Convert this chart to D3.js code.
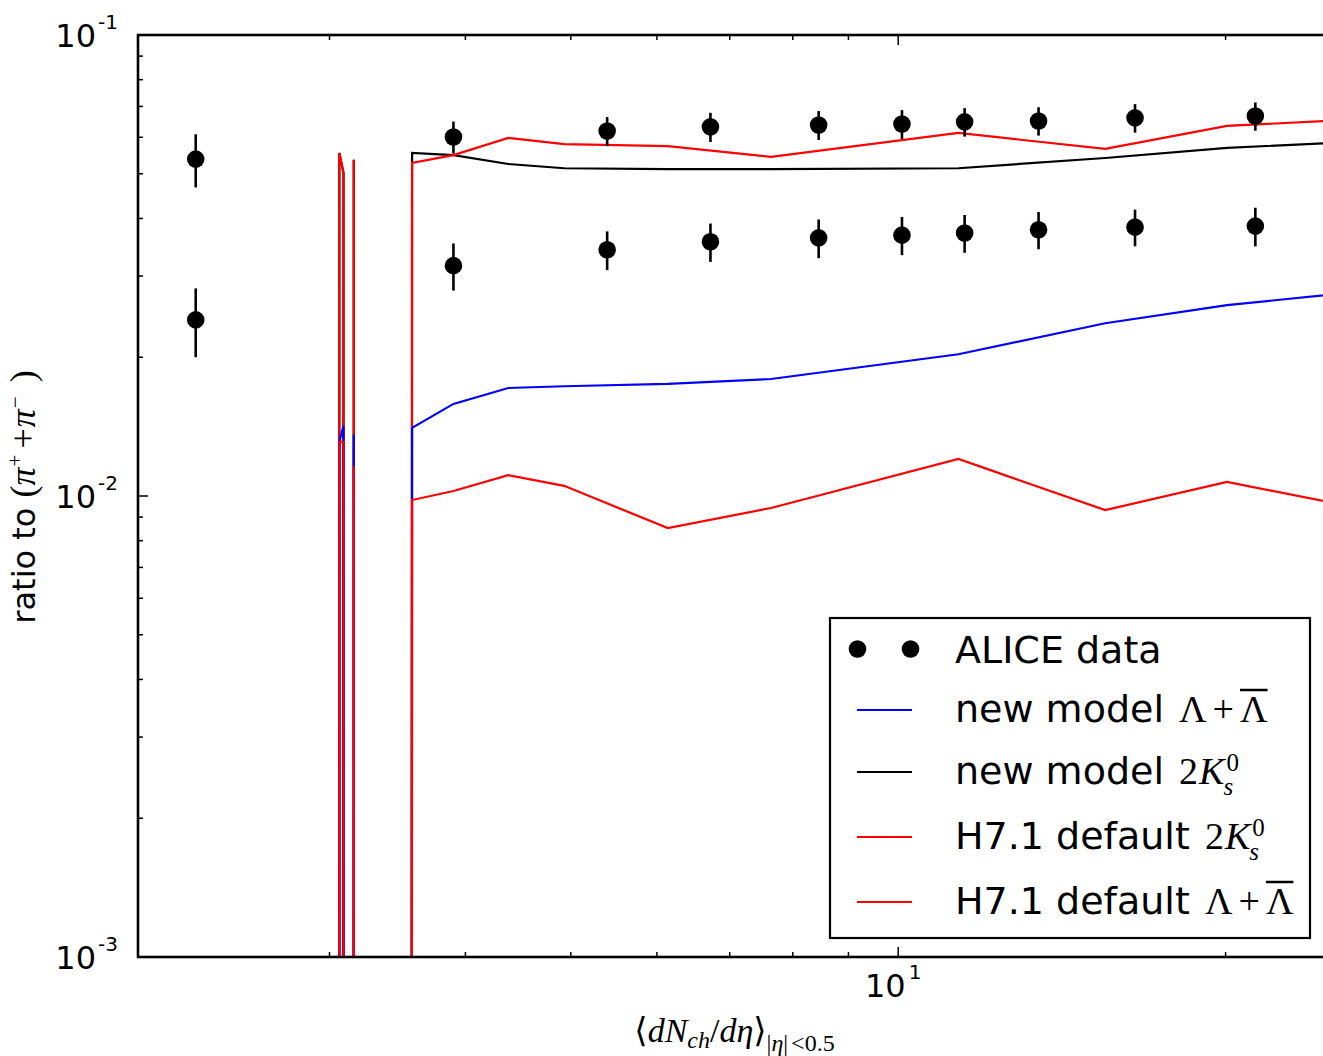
<!DOCTYPE html>
<html>
<head>
<meta charset="utf-8">
<script src="https://cdn.jsdelivr.net/npm/d3@7"></script>
<style>
  body { margin: 0; background: #fff; }
  svg { display: block; }
  svg text { white-space: pre; }
</style>
</head>
<body>
<script>
// ALICE pp multiplicity classes: <dNch/deta> and ratios to (pi+ + pi-)
const dataX   = [2.26, 3.90, 5.40, 6.72, 8.45, 10.08, 11.51, 13.46, 16.51, 21.3];
const dataK0  = [0.0538, 0.0601, 0.0619, 0.0632, 0.0638, 0.0641, 0.0648, 0.0651, 0.0661, 0.0667];
const errK0   = [0.0071, 0.0048, 0.0045, 0.0046, 0.0046, 0.0046, 0.0046, 0.0046, 0.0047, 0.0047];
const dataLam = [0.0241, 0.0316, 0.0342, 0.0356, 0.0363, 0.0368, 0.0372, 0.0378, 0.0383, 0.0385];
const errLam  = [0.0041, 0.0037, 0.0033, 0.0034, 0.0035, 0.0035, 0.0035, 0.0035, 0.0035, 0.0037];

// Generator predictions per multiplicity bin (0 = empty bin)
const modelX = [3.00, 3.063, 3.09, 3.12, 3.158, 3.20, 3.573, 3.90, 4.38, 4.93, 6.14, 7.64, 11.36, 15.5, 20.06, 26.0];
const newLam = [0, 0.0131, 0.0142, 0, 0.0136, 0, 0.01405, 0.01584, 0.01715, 0.0173, 0.0175, 0.01794, 0.0203, 0.0237, 0.02595, 0.0276];
const newK0  = [0, 0.0555, 0.0502, 0, 0.0536, 0, 0.0555, 0.0549, 0.0525, 0.0514, 0.0512, 0.0512, 0.0514, 0.0541, 0.0569, 0.0586];
const defK0  = [0, 0.0555, 0.0502, 0, 0.0536, 0, 0.0528, 0.0549, 0.0598, 0.0580, 0.0574, 0.0544, 0.0613, 0.0566, 0.0635, 0.0655];
const defLam = [0, 0.0131, 0.0131, 0, 0.0116, 0, 0.0098, 0.01025, 0.0111, 0.01052, 0.00852, 0.00942, 0.01203, 0.00932, 0.01073, 0.0095];

const xTickMajor = [10];
const xTickMinor = [2, 3, 4, 5, 6, 7, 8, 9, 20];
const yTickMajor = [1e-3, 1e-2, 1e-1];
const yTickLabels = ["-3", "-2", "-1"];

const W = 1323, H = 1056;
const L = 138, T = 35, R = 1331, B = 957;

const svg = d3.select("body").append("svg").attr("width", W).attr("height", H);

const x = d3.scaleLog().domain([2, 25]).range([L, R]);
const y = d3.scaleLog().domain([1e-3, 1e-1]).range([B, T]);

const SANS = "DejaVu Sans, sans-serif";
const SERIF = "Liberation Serif, DejaVu Serif, serif";

svg.append("defs").append("clipPath").attr("id", "plot")
  .append("rect").attr("x", L).attr("y", T).attr("width", R - L).attr("height", B - T);

const plot = svg.append("g").attr("clip-path", "url(#plot)");

// zero-valued bins are pushed far below the axis, as a clipped log plot does
const floorV = 1e-300;
const line = d3.line()
  .x(d => x(d[0]))
  .y(d => y(Math.max(d[1], floorV)));

const series = [
  { v: newK0,  c: "#000000" },
  { v: defK0,  c: "#ff0000" },
  { v: newLam, c: "#0000ff" },
  { v: defLam, c: "#ff0000" }
];
series.forEach(s => {
  plot.append("path")
    .attr("d", line(modelX.map((xx, i) => [xx, s.v[i]])))
    .attr("fill", "none").attr("stroke", s.c).attr("stroke-width", 2.2)
    .attr("stroke-linejoin", "miter");
});

// data points with error bars
[[dataK0, errK0], [dataLam, errLam]].forEach(([vals, errs]) => {
  const g = plot.append("g");
  g.selectAll("line").data(vals).join("line")
    .attr("x1", (d, i) => x(dataX[i])).attr("x2", (d, i) => x(dataX[i]))
    .attr("y1", (d, i) => y(d + errs[i])).attr("y2", (d, i) => y(d - errs[i]))
    .attr("stroke", "#000").attr("stroke-width", 2.6);
  g.selectAll("circle").data(vals).join("circle")
    .attr("cx", (d, i) => x(dataX[i])).attr("cy", d => y(d))
    .attr("r", 8.8).attr("fill", "#000");
});

// ticks (inward, on all four sides)
const axes = svg.append("g").attr("stroke", "#000");
function minorY() {
  const out = [];
  [1e-3, 1e-2].forEach(dec => { for (let k = 2; k <= 9; k++) out.push(dec * k); });
  return out;
}
xTickMajor.forEach(v => {
  axes.append("line").attr("x1", x(v)).attr("x2", x(v)).attr("y1", B).attr("y2", B - 10).attr("stroke-width", 1.5);
  axes.append("line").attr("x1", x(v)).attr("x2", x(v)).attr("y1", T).attr("y2", T + 10).attr("stroke-width", 1.5);
});
xTickMinor.forEach(v => {
  axes.append("line").attr("x1", x(v)).attr("x2", x(v)).attr("y1", B).attr("y2", B - 5).attr("stroke-width", 1.5);
  axes.append("line").attr("x1", x(v)).attr("x2", x(v)).attr("y1", T).attr("y2", T + 5).attr("stroke-width", 1.5);
});
yTickMajor.forEach(v => {
  axes.append("line").attr("x1", L).attr("x2", L + 10).attr("y1", y(v)).attr("y2", y(v)).attr("stroke-width", 1.5);
});
minorY().forEach(v => {
  axes.append("line").attr("x1", L).attr("x2", L + 5).attr("y1", y(v)).attr("y2", y(v)).attr("stroke-width", 1.5);
});

// frame
svg.append("rect").attr("x", L).attr("y", T).attr("width", R - L).attr("height", B - T)
  .attr("fill", "none").attr("stroke", "#000").attr("stroke-width", 2.6);

// lays out a row of text runs left to right, measuring each run
function rich(parent, runs) {
  const g = parent.append("g");
  let cx = 0;
  runs.forEach(r => {
    cx += r.dx || 0;
    const t = g.append("text")
      .attr("x", cx).attr("y", r.dy || 0)
      .attr("font-family", r.f || SANS)
      .attr("font-size", r.s)
      .attr("font-style", r.it ? "italic" : "normal")
      .attr("fill", "#000")
      .text(r.t);
    const w = t.node().getComputedTextLength();
    if (r.over) {
      g.append("line").attr("x1", cx).attr("x2", cx + w)
        .attr("y1", r.over).attr("y2", r.over)
        .attr("stroke", "#000").attr("stroke-width", 2.5);
    }
    cx += (r.adv !== undefined ? r.adv : w);
  });
  return { g, w: cx };
}
function placeRich(parent, px, py, runs, anchor) {
  const r = rich(parent, runs);
  const sh = anchor === "middle" ? -r.w / 2 : anchor === "end" ? -r.w : 0;
  r.g.attr("transform", `translate(${px + sh},${py})`);
  return r;
}

// tick labels
yTickMajor.forEach((v, i) => {
  placeRich(svg, 118, y(v) + 12, [
    { t: "10", s: 32 },
    { t: yTickLabels[i], s: 20, dy: -18, dx: 2 }
  ], "end");
});
xTickMajor.forEach(v => {
  placeRich(svg, x(v) - 5, 997, [
    { t: "10", s: 32 },
    { t: "1", s: 20, dy: -18, dx: 3 }
  ], "middle");
});

// axis labels
placeRich(svg, (L + R) / 2, 1042, [
  { t: "\u27E8", s: 34, f: SERIF },
  { t: "dN", s: 34, f: SERIF, it: true },
  { t: "ch", s: 24, f: SERIF, it: true, dy: 6 },
  { t: "/", s: 34, f: SERIF },
  { t: "d\u03B7", s: 34, f: SERIF, it: true },
  { t: "\u27E9", s: 34, f: SERIF },
  { t: "|", s: 24, f: SERIF, dy: 9 },
  { t: "\u03B7", s: 24, f: SERIF, it: true, dy: 9 },
  { t: "|", s: 24, f: SERIF, dy: 9 },
  { t: "<0.5", s: 24, f: SERIF, dy: 9, dx: 3 }
], "middle");

const yl = svg.append("g").attr("transform", "translate(35,497) rotate(-90)");
placeRich(yl, 0, 0, [
  { t: "ratio to ", s: 32 },
  { t: "(", s: 36, f: SERIF },
  { t: "\u03C0", s: 36, f: SERIF, it: true },
  { t: "+", s: 21, f: SERIF, dy: -13, dx: 1 },
  { t: "+", s: 36, f: SERIF, dx: 6 },
  { t: "\u03C0", s: 36, f: SERIF, it: true, dx: 1 },
  { t: "\u2212", s: 21, f: SERIF, dy: -13, dx: 1 },
  { t: ")", s: 36, f: SERIF, dx: 14 }
], "middle");

// legend
const lg = svg.append("g");
lg.append("rect").attr("x", 830).attr("y", 618).attr("width", 480).attr("height", 320)
  .attr("fill", "#fff").attr("stroke", "#000").attr("stroke-width", 2.2);

const legendRows = [
  { y: 649, kind: "dot" },
  { y: 710, c: "#0000ff" },
  { y: 772, c: "#000000" },
  { y: 837, c: "#ff0000" },
  { y: 902, c: "#ff0000" }
];
legendRows.forEach(r => {
  if (r.kind === "dot") {
    [857.5, 910.5].forEach(cx => lg.append("circle").attr("cx", cx).attr("cy", r.y).attr("r", 8.8).attr("fill", "#000"));
  } else {
    lg.append("line").attr("x1", 857).attr("x2", 912).attr("y1", r.y).attr("y2", r.y)
      .attr("stroke", r.c).attr("stroke-width", 2.2);
  }
});

const MS = 38;
const lamRuns = (ov) => [
  { t: "\u039B", s: MS, f: SERIF, dx: 3 },
  { t: "+", s: MS, f: SERIF, dx: 6 },
  { t: "\u039B", s: MS, f: SERIF, dx: 6, over: ov }
];
const kRuns = [
  { t: "2", s: MS, f: SERIF, dx: 3 },
  { t: "K", s: MS, f: SERIF, it: true, dx: 1 },
  { t: "0", s: 25, f: SERIF, dy: -13, dx: 2, adv: 0 },
  { t: "s", s: 25, f: SERIF, it: true, dy: 11, dx: -3 }
];

placeRich(lg, 955, 663, [{ t: "ALICE data", s: 38 }]);
placeRich(lg, 955, 722, [{ t: "new model ", s: 38 }].concat(lamRuns(-32)));
placeRich(lg, 955, 784, [{ t: "new model ", s: 38 }].concat(kRuns));
placeRich(lg, 955, 849, [{ t: "H7.1 default ", s: 38 }].concat(kRuns));
placeRich(lg, 955, 914, [{ t: "H7.1 default ", s: 38 }].concat(lamRuns(-32)));
</script>
</body>
</html>
